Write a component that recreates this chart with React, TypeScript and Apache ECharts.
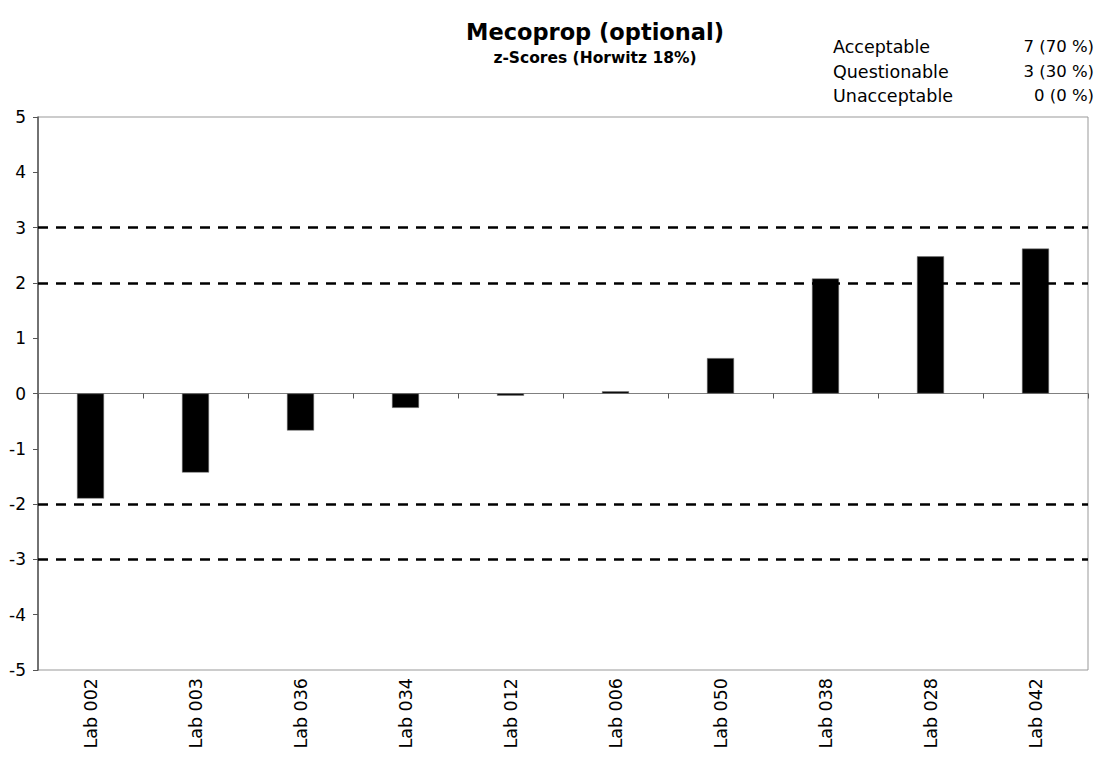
import React, { useEffect, useRef } from "react";
import * as echarts from "echarts";

const labs = ["Lab 002", "Lab 003", "Lab 036", "Lab 034", "Lab 012", "Lab 006", "Lab 050", "Lab 038", "Lab 028", "Lab 042"];
const zScores = [-1.9, -1.43, -0.67, -0.26, -0.04, 0.04, 0.64, 2.08, 2.48, 2.62];
const limitLines = [3, 2, -2, -3];
const summaryNames = ["Acceptable", "Questionable", "Unacceptable"];
const summaryValues = ["7 (70 %)", "3 (30 %)", "0 (0 %)"];

const FONT = "DejaVu Sans";

export default function App() {
  const ref = useRef<HTMLDivElement>(null);
  useEffect(() => {
    document.body.style.margin = "0";
    const chart = echarts.init(ref.current!, undefined, { renderer: "svg" });
    const graphics: any[] = [];
    summaryNames.forEach((n, i) => {
      graphics.push({
        type: "text",
        left: 833,
        top: 38 + i * 24.5,
        style: { text: n, font: `17.5px '${FONT}'`, fill: "#000" },
      });
      graphics.push({
        type: "text",
        right: 22,
        top: 38 + i * 24.5,
        style: { text: summaryValues[i], font: `16.5px '${FONT}'`, fill: "#000", align: "right" },
      });
    });
    chart.setOption({
      animation: false,
      backgroundColor: "#fff",
      title: {
        text: "Mecoprop (optional)",
        subtext: "z-Scores (Horwitz 18%)",
        left: 590,
        textAlign: "center",
        top: 15,
        itemGap: 7,
        textStyle: { fontFamily: FONT, fontSize: 22.5, fontWeight: "bold", color: "#000" },
        subtextStyle: { fontFamily: FONT, fontSize: 15.5, fontWeight: "bold", color: "#000" },
      },
      graphic: graphics,
      grid: {
        left: 38,
        right: 28,
        top: 117,
        bottom: 89,
        show: true,
        borderColor: "#999",
        borderWidth: 1,
        containLabel: false,
      },
      xAxis: [
        {
          type: "category",
          data: labs,
          position: "bottom",
          axisLine: { onZero: true, lineStyle: { color: "#808080", width: 1 } },
          axisTick: { show: true, alignWithLabel: false, length: 5, lineStyle: { color: "#555" } },
          axisLabel: { show: false },
          splitLine: { show: false },
        },
        {
          type: "category",
          data: labs,
          position: "bottom",
          axisLine: { show: false, onZero: false },
          axisTick: { show: false },
          axisLabel: {
            show: true,
            rotate: 90,
            margin: 8,
            fontFamily: FONT,
            fontSize: 17.5,
            color: "#000",
          },
        },
      ],
      yAxis: {
        type: "value",
        min: -5,
        max: 5,
        interval: 1,
        axisLine: { show: true, lineStyle: { color: "#555", width: 1.5 } },
        axisTick: { show: true, length: 5, lineStyle: { color: "#555" } },
        axisLabel: { fontFamily: FONT, fontSize: 17, color: "#000", margin: 12 },
        splitLine: { show: false },
      },
      series: [
        {
          type: "bar",
          xAxisIndex: 0,
          data: zScores,
          barWidth: 27,
          itemStyle: { color: "#000", borderColor: "#777", borderWidth: 0.5 },
          markLine: {
            silent: true,
            symbol: "none",
            label: { show: false },
            lineStyle: { color: "#000", type: [10, 8], width: 2.5 },
            data: limitLines.map((v) => ({ yAxis: v })),
          },
        },
      ],
    });
    return () => chart.dispose();
  }, []);
  return <div ref={ref} style={{ width: 1116, height: 759 }} />;
}
